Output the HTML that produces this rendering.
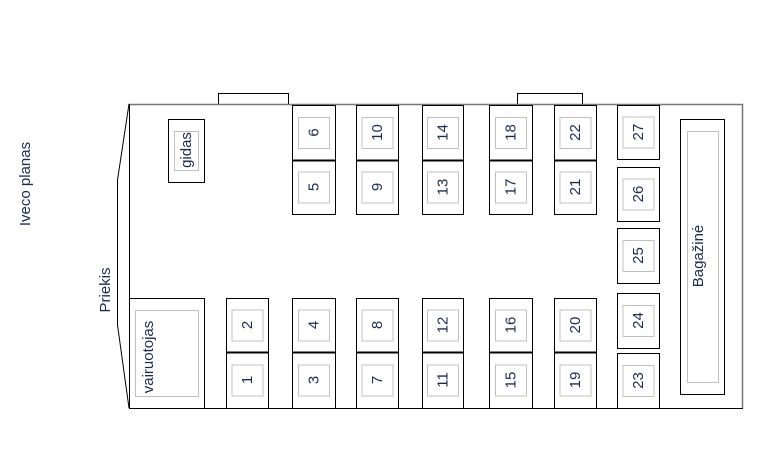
<!DOCTYPE html>
<html><head><meta charset="utf-8"><style>
html,body{margin:0;padding:0;background:#fff;}
svg text{font-family:"Liberation Sans",sans-serif;font-size:15px;fill:#1a2d50;}
</style></head><body>
<svg width="777" height="469" viewBox="0 0 777 469" xmlns="http://www.w3.org/2000/svg">
<g fill="none" stroke-width="1">
<rect x="218.5" y="93.5" width="70" height="11" stroke="#000" fill="#fff"/>
<rect x="517.5" y="93.5" width="65" height="11" stroke="#000" fill="#fff"/>
<line x1="129" y1="104.5" x2="743" y2="104.5" stroke="#777" stroke-width="1.5"/>
<line x1="742.5" y1="104" x2="742.5" y2="408" stroke="#777" stroke-width="1.5"/>
<line x1="129" y1="408.5" x2="743" y2="408.5" stroke="#000"/>
<line x1="129.5" y1="104" x2="129.5" y2="408" stroke="#000"/>
<polyline points="129,104 117.5,180 117.5,325 129,408" stroke="#000"/>
</g>
<g id="seats" stroke-width="1"></g>
<text transform="translate(30,184) rotate(-90)" text-anchor="middle">Iveco planas</text>
<text transform="translate(110,290) rotate(-90)" text-anchor="middle">Priekis</text>
</svg>
<script>
const g=document.getElementById('seats');const NS='http://www.w3.org/2000/svg';
function r(x,y,w,h,c,sw){const e=document.createElementNS(NS,'rect');e.setAttribute('x',x+.5);e.setAttribute('y',y+.5);e.setAttribute('width',w);e.setAttribute('height',h);e.setAttribute('fill','#fff');e.setAttribute('stroke',c);if(sw)e.setAttribute('stroke-width',sw);g.appendChild(e);}
function ln(x1,x2,y){const e=document.createElementNS(NS,'line');e.setAttribute('x1',x1);e.setAttribute('x2',x2);e.setAttribute('y1',y);e.setAttribute('y2',y);e.setAttribute('stroke','#000');e.setAttribute('stroke-width','2');g.appendChild(e);}
function t(cx,cy,s){const e=document.createElementNS(NS,'text');e.setAttribute('transform',`translate(${cx+5},${cy}) rotate(-90)`);e.setAttribute('text-anchor','middle');e.textContent=s;g.appendChild(e);}
function seat(x,y,w,h,l){r(x,y,w,h,'#000');const cx=x+w/2,cy=y+h/2;r(cx-15.5,cy-15.5,31,31,'#c0c0c0');t(cx,cy,l);}
const cols=[[226,42,[1,2]],[292,43,[3,4,5,6]],[356,42,[7,8,9,10]],[422,41,[11,12,13,14]],[489,43,[15,16,17,18]],[554,42,[19,20,21,22]]];
for(const [x,w,n] of cols){
 if(n.length===4){seat(x,105,w,55,n[3]);seat(x,160,w,54,n[2]);ln(x,x+w+1,160.5);}
 seat(x,298,w,54,n[1]);seat(x,352,w,56,n[0]);ln(x,x+w+1,352.5);
}
seat(617,105,42,54,27);seat(617,167,42,54,26);seat(617,228,42,55,25);seat(617,293,42,55,24);seat(617,353,42,55,23);
r(129,298,75,110,'#000');r(135,310,63,86,'#c0c0c0');
{const e=document.createElementNS(NS,'text');e.setAttribute('transform','translate(153,357) rotate(-90)');e.setAttribute('text-anchor','middle');e.textContent='vairuotojas';g.appendChild(e);}
r(168,119,36,63,'#000');r(174,131,24,39,'#c0c0c0');
{const e=document.createElementNS(NS,'text');e.setAttribute('transform','translate(191,150) rotate(-90)');e.setAttribute('text-anchor','middle');e.textContent='gidas';g.appendChild(e);}
r(680,119,44,275,'#000');r(687,131,31,251,'#c0c0c0');
{const e=document.createElementNS(NS,'text');e.setAttribute('transform','translate(703,256) rotate(-90)');e.setAttribute('text-anchor','middle');e.textContent='Bagažinė';g.appendChild(e);}
</script>
</body></html>
